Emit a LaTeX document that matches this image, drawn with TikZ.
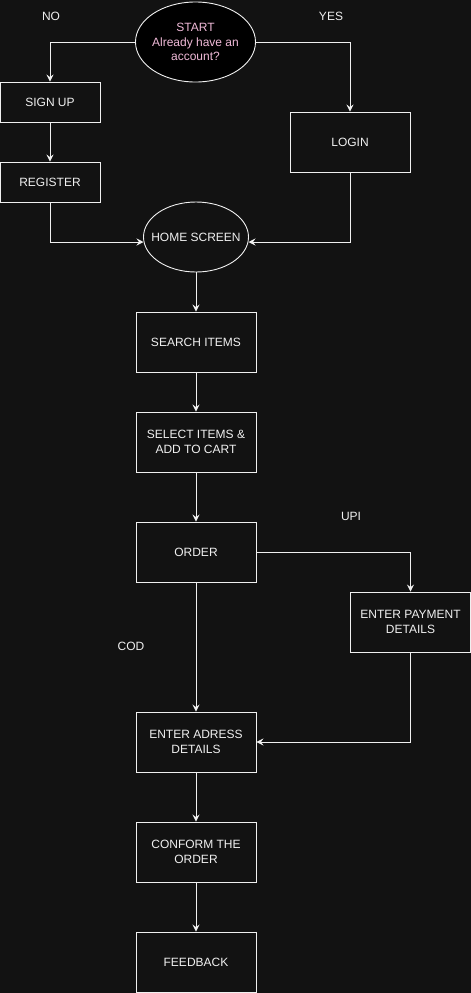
\documentclass[tikz,border=0pt]{standalone}
\usepackage{fontspec}
\setmainfont{Liberation Sans}
\usetikzlibrary{arrows.meta,shapes.geometric}
\definecolor{bg}{RGB}{18,18,18}
\definecolor{ln}{RGB}{240,240,240}
\definecolor{pinktxt}{RGB}{240,186,216}
\tikzset{
  boxnode/.style={draw=ln, fill=bg, line width=0.9pt, text=ln, align=center, inner sep=0pt, font=\fontsize{12}{15}\selectfont},
  ovalnode/.style={draw=ln, ellipse, line width=0.9pt, inner sep=0pt},
  ovaltext/.style={align=center, inner sep=0pt, font=\fontsize{12}{14.5}\selectfont},
  lbl/.style={text=ln, font=\fontsize{12}{14}\selectfont, inner sep=0pt},
  conn/.style={draw=ln, line width=0.9pt, -{Stealth[length=7pt,width=7pt,inset=2.5pt]}},
}
\begin{document}
\begin{tikzpicture}[x=1pt,y=-1pt]
\fill[bg] (0,0) rectangle (471,993);
\useasboundingbox (0,0) rectangle (471,993);
% nodes
\node[ovalnode, fill=black, minimum width=120pt, minimum height=80pt,
  label={[ovaltext, text=pinktxt]center:START\\Already have an\\account?}] (start) at (195.5,42) {};
\node[lbl] (no) at (51,16) {NO};
\node[lbl] (yes) at (331,16) {YES};
\node[boxnode, minimum width=100pt, minimum height=40pt] (signup) at (50,102) {SIGN UP};
\node[boxnode, minimum width=100pt, minimum height=40pt] (register) at (50,182) {REGISTER};
\node[boxnode, minimum width=120pt, minimum height=60pt] (login) at (350,142) {LOGIN};
\node[ovalnode, fill=bg, minimum width=105pt, minimum height=70pt,
  label={[ovaltext, text=ln]center:HOME SCREEN}] (home) at (196,237) {};
\node[boxnode, minimum width=120pt, minimum height=60pt] (search) at (196,342) {SEARCH ITEMS};
\node[boxnode, minimum width=120pt, minimum height=60pt] (select) at (196,442) {SELECT ITEMS \&\\ADD TO CART};
\node[boxnode, minimum width=120pt, minimum height=60pt] (order) at (196,552) {ORDER};
\node[boxnode, minimum width=120pt, minimum height=60pt] (payment) at (410.5,622) {ENTER PAYMENT\\DETAILS};
\node[boxnode, minimum width=120pt, minimum height=60pt] (address) at (196,742) {ENTER ADRESS\\DETAILS};
\node[boxnode, minimum width=120pt, minimum height=60pt] (conform) at (196,852) {CONFORM THE\\ORDER};
\node[boxnode, minimum width=120pt, minimum height=60pt] (feedback) at (196,962) {FEEDBACK};
\node[lbl] (upi) at (351,516) {UPI};
\node[lbl] (cod) at (131,646) {COD};
% connectors
\draw[conn] (start.west) -| (signup.north);
\draw[conn] (start.east) -| (login.north);
\draw[conn] (signup) -- (register);
\coordinate (homeL) at (143.5,242);
\coordinate (homeR) at (248.5,242);
\draw[conn] (register.south) |- (homeL);
\draw[conn] (login.south) |- (homeR);
\draw[conn] (home.south) -- (search.north);
\draw[conn] (search) -- (select);
\draw[conn] (select) -- (order);
\draw[conn] (order.east) -| (payment.north);
\draw[conn] (order) -- (address);
\draw[conn] (payment.south) |- (address.east);
\draw[conn] (address) -- (conform);
\draw[conn] (conform) -- (feedback);
\end{tikzpicture}
\end{document}
